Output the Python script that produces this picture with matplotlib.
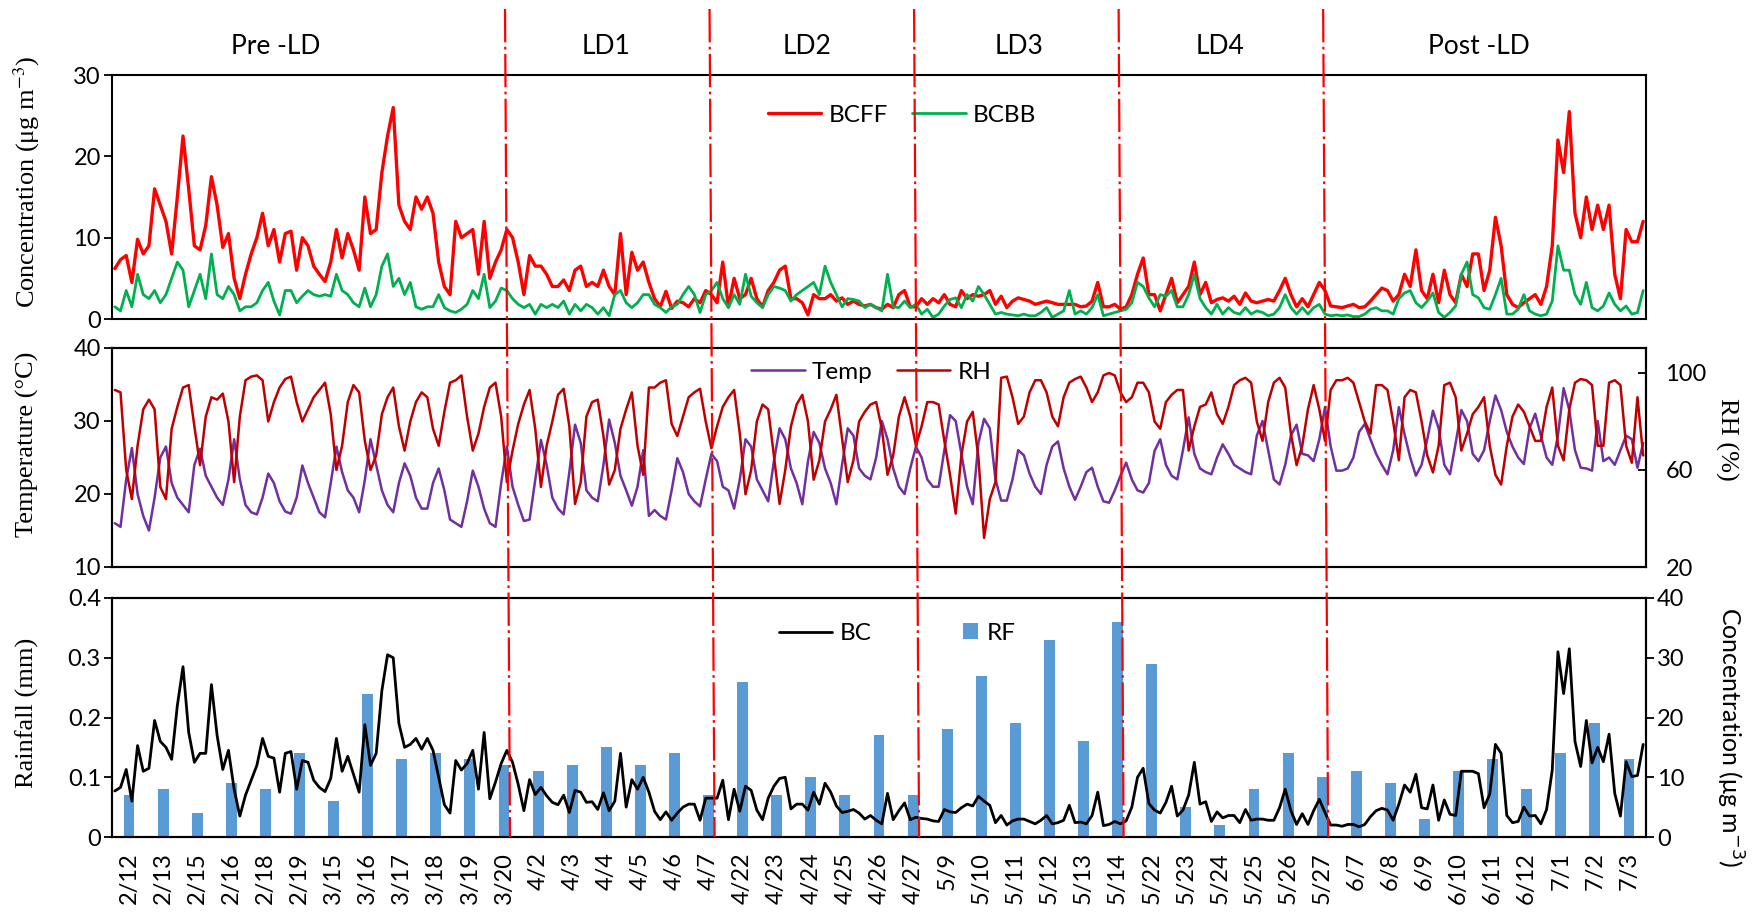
import numpy as np
import matplotlib
matplotlib.use("Agg")
import matplotlib.pyplot as plt
import matplotlib.transforms as mtransforms
from matplotlib.lines import Line2D
from matplotlib.ticker import FuncFormatter

plt.rcParams['font.family'] = ['Lato', 'DejaVu Sans']

# Sampling dates (one category per day)
dates = ['2/12', '2/13', '2/15', '2/16', '2/18', '2/19', '3/15', '3/16', '3/17',
         '3/18', '3/19', '3/20', '4/2', '4/3', '4/4', '4/5', '4/6', '4/7',
         '4/22', '4/23', '4/24', '4/25', '4/26', '4/27', '5/9', '5/10', '5/11',
         '5/12', '5/13', '5/14', '5/22', '5/23', '5/24', '5/25', '5/26', '5/27',
         '6/7', '6/8', '6/9', '6/10', '6/11', '6/12', '7/1', '7/2', '7/3']

# Daily rainfall (mm)
rainfall = [0.07, 0.08, 0.04, 0.09, 0.08, 0.14, 0.06, 0.24, 0.13, 0.14, 0.13, 0.12,
            0.11, 0.12, 0.15, 0.12, 0.14, 0.07, 0.26, 0.07, 0.10, 0.07, 0.17, 0.07,
            0.18, 0.27, 0.19, 0.33, 0.16, 0.36, 0.29, 0.05, 0.02, 0.08, 0.14, 0.10,
            0.11, 0.09, 0.03, 0.11, 0.13, 0.08, 0.14, 0.19, 0.13]

# Four-hourly black carbon from fossil fuel (ug m-3), six values per date
bcff = [
    6.2, 7.3, 7.8, 4.5, 9.8, 8.0,     9.0, 16.0, 14.0, 12.0, 8.0, 15.0,
    22.5, 16.0, 9.0, 8.5, 11.5, 17.5, 14.0, 8.8, 10.5, 5.0, 2.5, 5.5,
    8.0, 10.0, 13.0, 9.0, 11.0, 7.0,  10.5, 10.8, 6.0, 10.0, 9.0, 6.5,
    5.5, 4.6, 7.0, 11.0, 7.5, 10.5,   8.5, 6.0, 15.0, 10.5, 11.0, 18.0,
    22.5, 26.0, 14.0, 12.0, 11.0, 15.0, 13.5, 15.0, 13.0, 7.0, 4.0, 3.0,
    12.0, 10.0, 10.5, 11.0, 5.5, 12.0, 5.0, 7.0, 8.5, 11.0, 10.0, 7.0,
    3.0, 7.8, 6.5, 6.5, 5.5, 4.0,     4.0, 4.8, 3.5, 6.0, 6.5, 4.0,
    4.5, 4.0, 6.0, 4.0, 3.0, 10.5,    3.0, 8.2, 6.0, 7.0, 4.5, 2.5,
    1.5, 3.4, 1.3, 2.2, 2.0, 1.5,     2.5, 2.0, 3.5, 3.0, 2.0, 7.0,
    1.5, 5.0, 2.5, 3.0, 5.0, 2.5,     1.5, 3.5, 4.5, 6.0, 6.5, 2.5,
    2.5, 2.0, 0.5, 3.0, 2.5, 2.5,     3.0, 2.2, 2.6, 1.8, 2.2, 1.8,
    1.6, 1.8, 1.4, 1.2, 1.8, 1.4,     3.0, 3.5, 1.5, 1.5, 2.5, 1.8,
    2.5, 2.0, 3.0, 1.8, 1.5, 3.5,     2.5, 3.0, 2.8, 3.0, 3.5, 1.8,
    2.8, 1.4, 2.2, 2.6, 2.4, 2.2,     1.8, 2.0, 2.2, 2.0, 1.8, 1.8,
    1.8, 1.8, 1.5, 1.6, 2.2, 4.5,     1.5, 1.5, 1.8, 1.2, 1.5, 3.0,
    5.5, 7.5, 3.0, 3.0, 1.0, 3.0,     5.0, 2.0, 3.0, 4.0, 7.0, 3.0,
    4.5, 2.0, 2.4, 2.6, 2.2, 2.8,     1.8, 3.2, 2.2, 2.0, 2.2, 2.4,
    2.2, 3.5, 5.0, 3.0, 1.5, 2.5,     1.5, 3.0, 4.5, 3.5, 1.6, 1.5,
    1.4, 1.6, 1.8, 1.4, 1.5, 2.2,     3.0, 3.8, 3.5, 2.2, 3.0, 5.5,
    4.0, 8.5, 3.5, 2.5, 5.5, 2.0,     6.0, 3.0, 2.0, 5.5, 4.0, 8.0,
    8.0, 3.5, 6.0, 12.5, 9.0, 3.0,    1.8, 1.4, 2.0, 2.5, 3.0, 1.8,
    4.0, 9.0, 22.0, 18.0, 25.5, 13.0, 10.0, 15.0, 11.0, 14.0, 11.0, 14.0,
    5.5, 2.5, 11.0, 9.5, 9.5, 12.0,
]

# Four-hourly black carbon from biomass burning (ug m-3)
bcbb = [
    1.5, 1.0, 3.5, 1.5, 5.5, 3.0,     2.5, 3.5, 2.0, 3.0, 5.0, 7.0,
    6.0, 1.5, 3.5, 5.5, 2.5, 8.0,     3.0, 2.5, 4.0, 3.0, 1.0, 1.5,
    1.5, 2.0, 3.5, 4.5, 2.2, 0.5,     3.5, 3.5, 2.0, 2.8, 3.5, 3.0,
    2.8, 3.0, 2.8, 5.5, 3.5, 3.0,     2.0, 1.5, 3.8, 1.5, 3.0, 6.5,
    8.0, 4.0, 5.0, 3.0, 4.5, 1.5,     1.2, 1.5, 1.5, 3.0, 1.4, 1.0,
    0.8, 1.2, 1.8, 3.5, 2.5, 5.5,     1.4, 2.2, 3.8, 3.5, 2.5, 1.8,
    1.4, 1.8, 0.6, 1.8, 1.4, 1.8,     1.4, 2.2, 0.6, 1.8, 1.0, 1.8,
    1.4, 0.6, 1.4, 0.4, 3.0, 3.5,     2.0, 1.4, 2.0, 3.0, 3.0, 1.8,
    1.4, 0.8, 1.5, 1.8, 3.0, 4.0,     3.0, 0.8, 3.0, 3.5, 4.5, 2.5,
    1.4, 3.0, 1.8, 5.5, 2.8, 2.0,     1.4, 3.0, 4.0, 3.8, 3.5, 2.2,
    3.0, 3.5, 4.0, 4.5, 3.0, 6.5,     4.5, 3.0, 1.5, 2.5, 2.4, 2.2,
    1.4, 1.8, 1.4, 1.0, 5.5, 1.5,     1.4, 2.2, 1.4, 1.8, 0.6, 1.2,
    0.2, 0.6, 1.6, 2.4, 2.6, 1.4,     3.0, 2.2, 4.0, 3.0, 1.8, 0.6,
    0.8, 0.6, 0.5, 0.4, 0.6, 0.4,     0.4, 0.8, 1.4, 0.2, 0.6, 1.0,
    3.5, 0.6, 1.0, 0.6, 1.4, 3.0,     0.4, 0.6, 0.8, 1.0, 1.2, 2.0,
    4.5, 4.0, 2.6, 1.5, 3.0, 2.8,     3.5, 1.5, 1.5, 3.0, 5.5, 2.5,
    1.4, 0.6, 1.8, 0.6, 1.4, 0.8,     0.6, 1.4, 0.6, 1.0, 0.8, 0.4,
    0.6, 1.4, 3.0, 1.4, 0.6, 1.4,     0.6, 1.4, 1.8, 0.6, 0.4, 0.5,
    0.4, 0.5, 0.3, 0.3, 0.6, 1.2,     1.4, 1.0, 1.0, 0.6, 2.5, 3.2,
    3.5, 2.0, 1.4, 2.2, 3.2, 0.8,     0.2, 0.8, 1.6, 5.5, 7.0, 3.0,
    2.6, 1.4, 1.2, 3.0, 5.0, 0.6,     0.6, 1.2, 3.0, 1.0, 0.6, 0.4,
    0.6, 2.2, 9.0, 6.0, 6.0, 3.0,     1.8, 4.5, 1.4, 1.0, 1.6, 3.2,
    1.8, 1.0, 1.6, 0.6, 0.8, 3.5,
]

# Four-hourly air temperature (degC)
temperature = [
    16.0, 15.5, 22.0, 26.3, 20.0, 17.0, 15.0, 19.5, 25.0, 26.5, 21.5, 19.5,
    18.5, 17.5, 24.0, 26.2, 22.5, 21.0, 19.5, 18.5, 22.0, 27.5, 22.0, 18.5,
    17.5, 17.2, 19.5, 22.8, 21.5, 19.0, 17.6, 17.3, 19.5, 23.9, 21.5, 19.5,
    17.5, 16.8, 21.5, 26.5, 23.0, 20.5, 19.5, 17.5, 21.9, 27.5, 24.0, 20.5,
    18.5, 17.5, 21.5, 24.2, 22.5, 19.5, 18.0, 18.0, 21.5, 23.5, 20.5, 16.5,
    16.0, 15.5, 19.0, 23.2, 21.0, 18.0, 16.0, 15.5, 21.5, 26.5, 21.0, 18.5,
    16.3, 16.5, 22.0, 27.4, 24.0, 19.5, 18.0, 17.2, 23.0, 29.5, 27.0, 20.5,
    19.5, 19.0, 24.0, 30.2, 27.0, 22.5, 20.5, 18.4, 21.0, 26.0, 17.0, 17.8,
    17.0, 16.5, 20.5, 24.9, 23.0, 20.0, 19.0, 18.3, 22.0, 25.5, 24.5, 21.0,
    20.5, 18.0, 22.0, 27.5, 26.5, 22.0, 20.5, 19.0, 24.5, 29.0, 27.5, 23.5,
    21.5, 18.6, 24.5, 28.5, 27.0, 23.5, 21.5, 18.6, 24.0, 29.0, 28.0, 23.5,
    22.5, 22.0, 25.0, 30.0, 27.5, 23.5, 21.0, 20.0, 23.5, 26.5, 25.0, 22.0,
    21.0, 21.0, 26.0, 30.8, 30.0, 25.5, 21.0, 18.6, 27.0, 30.3, 29.0, 22.0,
    19.1, 19.1, 22.0, 26.0, 25.3, 22.8, 21.0, 20.0, 24.0, 26.5, 27.2, 23.5,
    21.0, 19.2, 21.0, 23.0, 23.6, 21.0, 19.0, 18.8, 20.5, 22.5, 24.3, 22.0,
    20.5, 20.2, 21.5, 25.9, 27.5, 24.0, 22.5, 22.0, 26.0, 30.5, 25.5, 23.5,
    23.0, 22.7, 25.0, 26.8, 25.5, 24.0, 23.5, 23.0, 22.7, 28.0, 30.0, 26.0,
    22.0, 21.3, 24.0, 28.0, 29.5, 25.5, 25.3, 24.5, 27.5, 31.9, 26.5, 23.2,
    23.2, 23.5, 25.0, 28.5, 29.6, 27.5, 25.5, 24.0, 22.7, 26.0, 31.9, 28.2,
    25.0, 22.5, 24.0, 27.5, 31.4, 29.0, 24.0, 22.7, 27.0, 31.5, 30.0, 25.5,
    24.5, 26.0, 30.0, 33.5, 31.5, 28.5, 26.5, 25.0, 24.1, 29.0, 31.0, 28.0,
    25.0, 24.0, 28.0, 34.5, 31.5, 26.0, 23.6, 23.5, 23.2, 30.0, 24.5, 25.0,
    24.0, 26.0, 28.0, 27.5, 23.6, 27.0,
]

# Four-hourly relative humidity (%)
humidity = [
    93, 92, 60, 48, 70, 85,       89, 85, 53, 48, 77, 86,
    94, 95, 78, 62, 82, 90,       89, 91.5, 80, 55, 82, 97,
    98.5, 99, 97, 80, 88, 94,     97.5, 98.5, 88, 80, 85, 90,
    93, 96, 83, 60, 70, 88,       95, 92, 72, 60, 66, 83,
    90, 94, 78, 68, 80, 88,       92, 90, 77, 70, 84, 96,
    97, 99, 82, 68, 75, 86,       94, 96, 82, 55, 68, 79,
    87, 93, 77, 53, 70, 80,       91, 93.5, 78, 46, 55, 82,
    88, 89, 74, 54, 60, 77,       85, 92, 70, 58, 94, 94,
    96, 97, 79, 74, 82, 90,       92, 93.5, 80, 69, 78, 86,
    90, 93, 75, 50, 60, 80,       87, 85, 66, 46, 60, 78,
    87, 91, 80, 56, 64, 80,       85, 91, 73, 55, 64, 80,
    84, 87, 88, 77, 58, 66,       82, 90, 82, 70, 78, 88,
    88, 87, 72, 58, 42, 66,       80, 84, 65, 32, 48, 55,
    98, 98.5, 90, 79, 82, 92,     97, 97, 92, 82, 78, 90,
    96, 97.5, 98.5, 94, 88, 92,   99, 100, 99, 92, 88, 90,
    96, 96, 92, 80, 77, 88,       91, 93, 93, 68, 78, 86,
    87, 92, 83, 79, 86, 95,       97, 98, 96, 80, 72, 88,
    96, 98, 94, 75, 62, 70,       85, 95, 85, 72, 93, 97,
    97, 98, 96, 88, 80, 75,       95, 95, 93, 80, 64, 90,
    93, 92, 80, 66, 59, 70,       95, 96, 90, 68, 75, 83,
    86, 90, 70, 58, 54, 70,       82, 87, 84, 78, 72, 72,
    86, 94, 70, 64, 85, 96,       97.5, 97, 95, 70, 70, 96,
    97, 95, 70, 63, 90, 66,
]

periods = ['Pre -LD', 'LD1', 'LD2', 'LD3', 'LD4', 'Post -LD']
period_label_x = [4.3, 14.0, 19.9, 26.1, 32.0, 39.6]
period_breaks = [11, 17, 23, 29, 35]

# ---------------------------------------------------------------------------
n_days = len(dates)
per_day = len(bcff) // n_days
t = np.arange(len(bcff)) / per_day - 0.5 + 0.5 / per_day
bc_total = np.array(bcff) + np.array(bcbb)

W, H = 1753, 914
fig = plt.figure(figsize=(W / 100, H / 100), dpi=100)


def box(left, top, right, bottom):
    return [left / W, 1 - bottom / H, (right - left) / W, (bottom - top) / H]


ax1 = fig.add_axes(box(112, 75, 1646, 319))
ax2 = fig.add_axes(box(112, 348, 1646, 567))
ax3 = fig.add_axes(box(112, 598, 1646, 837))
ax2r = ax2.twinx()
ax3r = ax3.twinx()

TICK_FS = 17
LEG_FS = 17.5
SERIF = 'Liberation Serif'

for ax in (ax1, ax2, ax3, ax2r, ax3r):
    ax.set_xlim(-0.5, n_days - 0.5)
    for s in ax.spines.values():
        s.set_linewidth(1.5)
        s.set_color('black')
    ax.tick_params(axis='y', labelsize=TICK_FS, direction='out', length=6,
                   width=1.3, pad=2)
    ax.tick_params(axis='x', bottom=False, labelbottom=False)

line_kw = dict(solid_joinstyle='round', solid_capstyle='round')

# --- Top: BC source components ---------------------------------------------
ax1.plot(t, bcff, color='#FF0000', lw=2.4, label='BCFF', **line_kw)
ax1.plot(t, bcbb, color='#00B050', lw=2.0, label='BCBB', **line_kw)
ax1.set_ylim(0, 30)
ax1.set_yticks([0, 10, 20, 30])
ax1.legend(loc='center', bbox_to_anchor=(0.515, 0.836), ncol=2, frameon=False,
           fontsize=LEG_FS, handlelength=2.2, handletextpad=0.3,
           columnspacing=1.0)

# --- Middle: temperature and RH --------------------------------------------
l_temp, = ax2.plot(t, temperature, color='#7030A0', lw=1.8, label='Temp',
                   **line_kw)
ax2.set_ylim(10, 40)
ax2.set_yticks([10, 20, 30, 40])
l_rh, = ax2r.plot(t, humidity, color='#C00000', lw=1.8, label='RH', **line_kw)
ax2r.set_ylim(20, 110.3)
ax2r.set_yticks([20, 60, 100])
ax2r.tick_params(axis='y', direction='in', pad=14)
ax2r.legend(handles=[l_temp, l_rh], loc='center', bbox_to_anchor=(0.495, 0.89),
            ncol=2, frameon=False, fontsize=LEG_FS, handlelength=2.2,
            handletextpad=0.3, columnspacing=1.0)

# --- Bottom: rainfall bars and total BC --------------------------------------
bars = ax3.bar(np.arange(n_days), rainfall, width=0.32, color='#5B9BD5',
               label='RF', zorder=2)
ax3.set_ylim(0, 0.4)
ax3.set_yticks([0, 0.1, 0.2, 0.3, 0.4])
ax3.yaxis.set_major_formatter(FuncFormatter(lambda v, p: '0' if v == 0 else f'{v:.1f}'))
ax3.set_xticks(np.arange(n_days))
ax3.set_xticklabels(dates, rotation=90, fontsize=TICK_FS)
ax3.tick_params(axis='x', bottom=True, labelbottom=True, length=0, pad=11)
l_bc, = ax3r.plot(t, bc_total, color='black', lw=2.0, label='BC', **line_kw)
ax3r.set_ylim(0, 40)
ax3r.set_yticks([0, 10, 20, 30, 40])
ax3r.legend(handles=[l_bc], loc='center', bbox_to_anchor=(0.465, 0.85),
            frameon=False, fontsize=LEG_FS, handlelength=2.2, handletextpad=0.3)
ax3.legend(handles=[bars], loc='center', bbox_to_anchor=(0.572, 0.853),
           frameon=False, fontsize=LEG_FS, handlelength=0.6, handleheight=0.6,
           handletextpad=0.35)

# --- Axis titles ---------------------------------------------------------------
def fig_pt(x, y):
    return x / W, 1 - y / H


fig.text(*fig_pt(27, 182), 'Concentration (μg m$^{-3}$)', rotation=90,
         ha='center', va='center', fontsize=19, family=SERIF,
         math_fontfamily='stix')
fig.text(*fig_pt(27, 444), 'Temperature (°C)', rotation=90, ha='center',
         va='center', fontsize=19, family=SERIF)
fig.text(*fig_pt(27, 713), 'Rainfall (mm)', rotation=90, ha='center',
         va='center', fontsize=19, family=SERIF)
fig.text(*fig_pt(1727, 439), 'RH (%)', rotation=270, ha='center', va='center',
         fontsize=19, family=SERIF)
fig.text(*fig_pt(1730, 737), 'Concentration (μg m$^{-3}$)', rotation=270,
         ha='center', va='center', fontsize=18)

# --- Period names and separators --------------------------------------------
hdr = mtransforms.blended_transform_factory(ax1.transData, fig.transFigure)
for name, xp in zip(periods, period_label_x):
    ax1.text(xp, 1 - 47 / H, name, transform=hdr, ha='center', va='center',
             fontsize=19, clip_on=False)

for idx in period_breaks:
    xc = ax1.transData.transform((idx, 0))[0]
    line = Line2D([(xc + 1) / W, (xc + 6) / W], [1 - 9 / H, 1 - 837 / H],
                  transform=fig.transFigure, color='#FF0000', lw=1.6,
                  linestyle=(0, (15, 2, 1.2, 2)), zorder=5)
    fig.add_artist(line)

fig.savefig('out.png', dpi=100)
